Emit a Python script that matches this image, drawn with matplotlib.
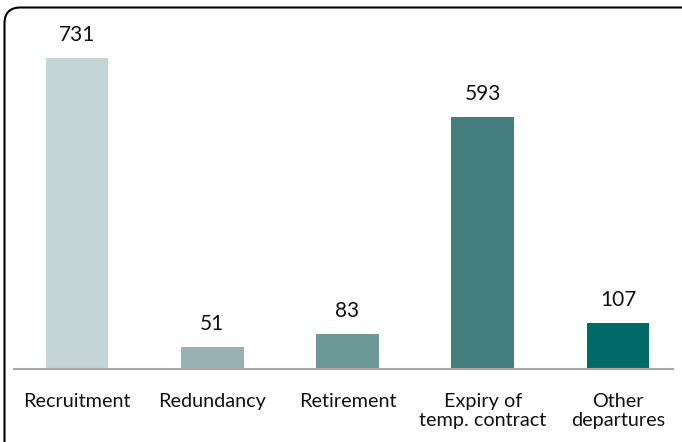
import matplotlib.pyplot as plt
from matplotlib.path import Path
from matplotlib.patches import PathPatch

categories = ["Recruitment", "Redundancy", "Retirement",
              "Expiry of\ntemp. contract", "Other\ndepartures"]
values = [731, 51, 83, 593, 107]
colors = ["#c5d5d5", "#98b2b3", "#6d9898", "#437e7c", "#006b66"]

W, H = 682, 442
fig = plt.figure(figsize=(W / 100, H / 100), dpi=100)
plt.rcParams['font.family'] = ['Lato', 'DejaVu Sans']

# axes placed in pixel terms: baseline at y=369, spans x 14..673
left, right, base, top = 14, 673, 369, 8
ax = fig.add_axes([left / W, (H - base) / H, (right - left) / W, (base - top) / H])

x = list(range(len(values)))
ax.bar(x, values, width=0.465, color=colors, zorder=2)
for xi, v in zip(x, values):
    ax.text(xi, v + 54, str(v), ha='center', va='center', fontsize=15, color='#111111')

ax.set_xlim(-0.466, 4.407)
ax.set_ylim(0, (base - top) / 0.4255)
ax.set_yticks([])
ax.set_xticks(x)
ax.set_xticklabels(categories, fontsize=14.3, color='#111111', linespacing=1.15)
ax.tick_params(axis='x', length=0, pad=17)
for s in ['top', 'left', 'right']:
    ax.spines[s].set_visible(False)
ax.spines['bottom'].set_color('#a6a6a6')
ax.spines['bottom'].set_linewidth(1.5)
ax.patch.set_alpha(0)

# rounded frame: left edge and top edge with rounded corner
r = 16
verts = [(4.5, H), (4.5, 7.5 + r), (4.5, 7.5), (4.5 + r, 7.5), (W, 7.5)]
codes = [Path.MOVETO, Path.LINETO, Path.CURVE3, Path.CURVE3, Path.LINETO]
verts = [(vx / W, 1 - vy / H) for vx, vy in verts]
frame = PathPatch(Path(verts, codes), transform=fig.transFigure,
                  fill=False, edgecolor='black', linewidth=1.5)
fig.patches.append(frame)

fig.savefig("out.png", dpi=100)
